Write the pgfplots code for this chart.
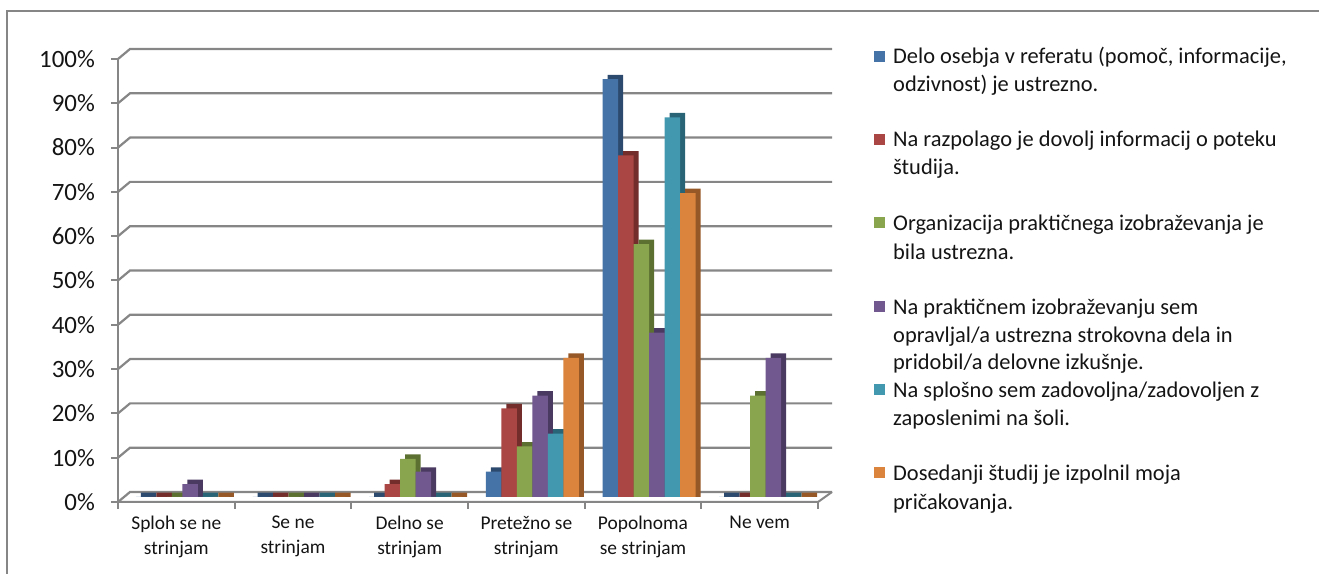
\documentclass[border=0pt]{standalone}
\usepackage{fontspec}
\setmainfont{Carlito}
\usepackage{pgfplots}
\usepackage{pgfplotstable}
\pgfplotsset{compat=1.18}

\definecolor{gridgray}{RGB}{134,134,134}
\definecolor{textc}{RGB}{20,20,20}
\definecolor{blueF}{RGB}{69,114,167}
\definecolor{blueS}{RGB}{44,74,110}
\definecolor{redF}{RGB}{170,70,67}
\definecolor{redS}{RGB}{115,45,43}
\definecolor{greenF}{RGB}{137,165,78}
\definecolor{greenS}{RGB}{92,112,50}
\definecolor{purpleF}{RGB}{113,88,143}
\definecolor{purpleS}{RGB}{74,57,96}
\definecolor{tealF}{RGB}{65,152,175}
\definecolor{tealS}{RGB}{40,100,118}
\definecolor{orangeF}{RGB}{219,132,61}
\definecolor{orangeS}{RGB}{150,88,38}

\pgfplotstableread{
x s1 s2 s3 s4 s5 s6
0 0 0 0 2.9 0 0
1 0 0 0 0 0 0
2 0 2.9 8.6 5.7 0 0
3 5.7 20.0 11.4 22.9 14.3 31.4
4 94.3 77.1 57.1 37.1 85.7 68.6
5 0 0 22.9 31.4 0 0
}\data

\newcommand{\legline}[2]{\node[anchor=base west,inner sep=0pt,text=textc,font=\fontsize{22.5}{26}\selectfont] at (893bp,{(574-(#1)-7)*1bp}) {#2};}
\newcommand{\legbox}[2]{\fill[#2] (874bp,{(574-(#1)-5.5)*1bp}) rectangle ++(11bp,11bp);}

\begin{document}
\begin{tikzpicture}
\draw[gridgray,line width=2bp] (7bp,0bp) -- (7bp,563bp) -- (1319bp,563bp);
\begin{axis}[
  at={(124bp,77bp)}, anchor=south west, scale only axis,
  width=700bp, height=443bp,
  xmin=-0.5, xmax=5.5, ymin=0, ymax=100,
  clip=false, set layers,
  axis line style={draw=none}, tick style={draw=none},
  xtick={0,...,5},
  xticklabels={{Sploh se ne\\strinjam},{Se ne\\strinjam},{Delno se\\strinjam},{Pretežno se\\strinjam},{Popolnoma\\se strinjam},{Ne vem}},
  ytick={0,10,...,100},
  yticklabels={0\%,10\%,20\%,30\%,40\%,50\%,60\%,70\%,80\%,90\%,100\%},
  xticklabel style={font=\fontsize{19.5}{25}\selectfont, text=textc, align=center, anchor=north, inner sep=0pt, yshift=-19bp, xshift=-6bp},
  yticklabel style={font=\fontsize{25}{28}\selectfont, text=textc, anchor=east, inner sep=0pt, xshift=-29bp, yshift=-5bp},
]
\begin{pgfonlayer}{axis background}
\pgfplotsinvokeforeach{0,10,...,100}{
  \draw[gridgray,line width=2.2bp] ([xshift=-6bp,yshift=-5bp]axis cs:-0.5,#1) -- ([xshift=6bp,yshift=5bp]axis cs:-0.5,#1) -- ([xshift=8bp,yshift=5bp]axis cs:5.5,#1);
  \draw[gridgray,line width=2bp] ([xshift=-6bp,yshift=-5bp]axis cs:-0.5,#1) -- ([xshift=-13bp,yshift=-5bp]axis cs:-0.5,#1);
}
\draw[gridgray,line width=2bp] ([xshift=-6bp,yshift=-5bp]axis cs:-0.5,0) -- ([xshift=-6bp,yshift=-5bp]axis cs:-0.5,100);
\draw[gridgray,line width=2bp] ([xshift=-6bp,yshift=-5bp]axis cs:-0.5,0) -- ([xshift=-6bp,yshift=-5bp]axis cs:5.5,0) -- ([xshift=8bp,yshift=5bp]axis cs:5.5,0);
\pgfplotsinvokeforeach{-0.5,0.5,...,5.5}{
  \draw[gridgray,line width=2bp] ([xshift=-6bp,yshift=-5bp]axis cs:#1,0) -- ([xshift=-6bp,yshift=-12bp]axis cs:#1,0);
}
\end{pgfonlayer}
% series 1
\addplot[ybar,bar width=15.5bp,bar shift=-33.75bp,fill=blueS,draw=none] table[x=x,y expr=\thisrow{s1}+1]{\data};
\addplot[ybar,bar width=15.5bp,bar shift=-38.75bp,fill=blueF,draw=none] table[x=x,y=s1]{\data};
% series 2
\addplot[ybar,bar width=15.5bp,bar shift=-18.25bp,fill=redS,draw=none] table[x=x,y expr=\thisrow{s2}+1]{\data};
\addplot[ybar,bar width=15.5bp,bar shift=-23.25bp,fill=redF,draw=none] table[x=x,y=s2]{\data};
% series 3
\addplot[ybar,bar width=15.5bp,bar shift=-2.75bp,fill=greenS,draw=none] table[x=x,y expr=\thisrow{s3}+1]{\data};
\addplot[ybar,bar width=15.5bp,bar shift=-7.75bp,fill=greenF,draw=none] table[x=x,y=s3]{\data};
% series 4
\addplot[ybar,bar width=15.5bp,bar shift=12.75bp,fill=purpleS,draw=none] table[x=x,y expr=\thisrow{s4}+1]{\data};
\addplot[ybar,bar width=15.5bp,bar shift=7.75bp,fill=purpleF,draw=none] table[x=x,y=s4]{\data};
% series 5
\addplot[ybar,bar width=15.5bp,bar shift=28.25bp,fill=tealS,draw=none] table[x=x,y expr=\thisrow{s5}+1]{\data};
\addplot[ybar,bar width=15.5bp,bar shift=23.25bp,fill=tealF,draw=none] table[x=x,y=s5]{\data};
% series 6
\addplot[ybar,bar width=15.5bp,bar shift=43.75bp,fill=orangeS,draw=none] table[x=x,y expr=\thisrow{s6}+1]{\data};
\addplot[ybar,bar width=15.5bp,bar shift=38.75bp,fill=orangeF,draw=none] table[x=x,y=s6]{\data};
\end{axis}
% legend
\legbox{56.7}{blueF}
\legline{56.7}{Delo osebja v referatu (pomoč, informacije,}
\legline{85}{odzivnost) je ustrezno.}
\legbox{140}{redF}
\legline{140}{Na razpolago je dovolj informacij o poteku}
\legline{168}{študija.}
\legbox{223}{greenF}
\legline{223}{Organizacija praktičnega izobraževanja je}
\legline{252}{bila ustrezna.}
\legbox{307}{purpleF}
\legline{307}{Na praktičnem izobraževanju sem}
\legline{335}{opravljal/a ustrezna strokovna dela in}
\legline{362}{pridobil/a delovne izkušnje.}
\legbox{390}{tealF}
\legline{390}{Na splošno sem zadovoljna/zadovoljen z}
\legline{418}{zaposlenimi na šoli.}
\legbox{473}{orangeF}
\legline{473}{Dosedanji študij je izpolnil moja}
\legline{502}{pričakovanja.}
\pgfresetboundingbox
\path[use as bounding box] (0bp,0bp) rectangle (1319bp,574bp);
\end{tikzpicture}
\end{document}
